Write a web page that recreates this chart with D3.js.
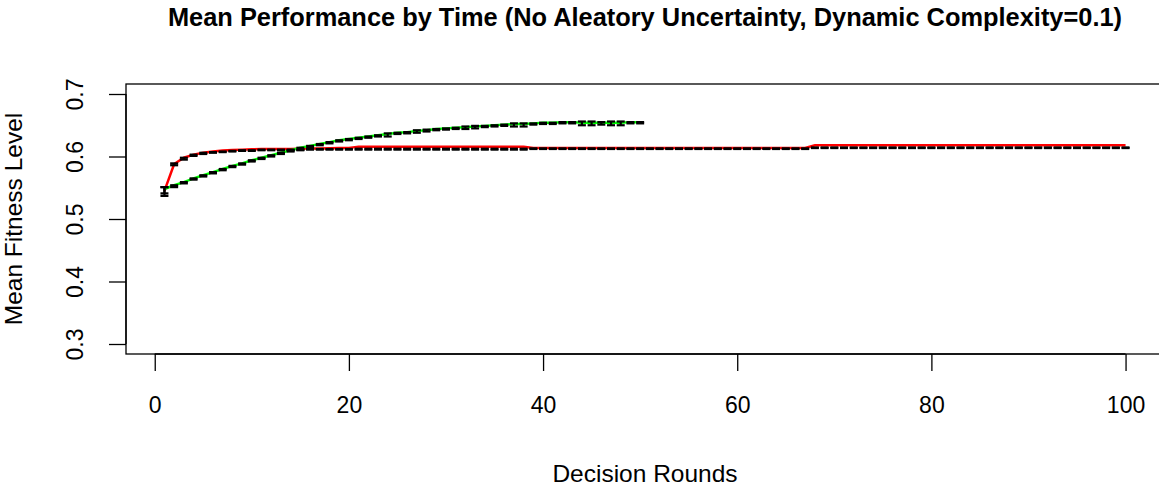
<!DOCTYPE html>
<html>
<head>
<meta charset="utf-8">
<script src="https://cdn.jsdelivr.net/npm/d3@7"></script>
<style>
  body { margin: 0; background: #fff; }
  svg { display: block; font-family: "Liberation Sans", Arial, sans-serif; }
</style>
</head>
<body>
<div class="chart-area"></div>
<script>
// Mean fitness by decision round, two conditions, with error bars

const titleText = "Mean Performance by Time (No Aleatory Uncertainty, Dynamic Complexity=0.1)";
const xTicks = [0, 20, 40, 60, 80, 100];
const yTicks = [0.3, 0.4, 0.5, 0.6, 0.7];

// red series: rounds 1..100
const redMean = [
  .545, .588, .598, .603, .606, .608, .6095, .6105, .611, .6115,
  .612, .612, .612, .6122, .6125, .613, .613, .6132, .6135, .6138,
  .6155, .6155, .6155, .6155, .6155, .6155, .6155, .6155, .6155, .6155,
  .6155, .6155, .6155, .6155, .6155, .6155, .6155, .6155, .6135, .6135,
  .6135, .6135, .6135, .6135, .6135, .6135, .6135, .6135, .6135, .6135,
  .6135, .6135, .6135, .6135, .6135, .6135, .6135, .6135, .6135, .6135,
  .6135, .6135, .6135, .6135, .6135, .6135, .6135, .618, .618, .618,
  .618, .618, .618, .618, .618, .618, .618, .618, .618, .618,
  .618, .618, .618, .618, .618, .618, .618, .618, .618, .618,
  .618, .618, .618, .618, .618, .618, .618, .618, .618, .618
];
const redLo = [
  .537, .586, .595, .601, .604, .606, .607, .608, .609, .609,
  .610, .610, .610, .610, .610, .611, .611, .611, .611, .611,
  .611, .611, .611, .611, .611, .611, .611, .611, .611, .611,
  .611, .611, .611, .611, .611, .611, .611, .611, .612, .612,
  .612, .612, .612, .612, .612, .612, .612, .612, .612, .612,
  .612, .612, .612, .612, .612, .612, .612, .612, .612, .612,
  .612, .612, .612, .612, .612, .612, .612, .6135, .6135, .6135,
  .6135, .6135, .6135, .6135, .6135, .6135, .6135, .6135, .6135, .6135,
  .6135, .6135, .6135, .6135, .6135, .6135, .6135, .6135, .6135, .6135,
  .6135, .6135, .6135, .6135, .6135, .6135, .6135, .6135, .6135, .6135
];
const redHi = [
  .551, .589, .598, .603, .606, .607, .608, .609, .610, .610,
  .611, .611, .611, .611, .611, .612, .612, .612, .612, .612,
  .6125, .6125, .6125, .6125, .6125, .6125, .6125, .6125, .6125, .6125,
  .6125, .6125, .6125, .6125, .6125, .6125, .6125, .6125, .613, .613,
  .613, .613, .613, .613, .613, .613, .613, .613, .613, .613,
  .613, .613, .613, .613, .613, .613, .613, .613, .613, .613,
  .613, .613, .613, .613, .613, .613, .613, .6145, .6145, .6145,
  .6145, .6145, .6145, .6145, .6145, .6145, .6145, .6145, .6145, .6145,
  .6145, .6145, .6145, .6145, .6145, .6145, .6145, .6145, .6145, .6145,
  .6145, .6145, .6145, .6145, .6145, .6145, .6145, .6145, .6145, .6145
];

// green series: rounds 1..50
const greenMean = [
  .548, .554, .559, .565, .570, .575, .580, .585, .589, .594,
  .598, .602, .606, .610, .614, .617, .620, .623, .626, .628,
  .630, .632, .634, .636, .638, .639, .641, .642, .644, .645,
  .646, .647, .648, .649, .650, .651, .652, .652, .653, .654,
  .654, .655, .655, .654, .654, .654, .654, .654, .655, .655
];
const greenLo = [
  .541, .551, .557, .563, .568, .573, .578, .583, .587, .592,
  .596, .600, .604, .608, .611, .614, .618, .621, .624, .626,
  .628, .630, .632, .632, .636, .637, .638, .640, .642, .643,
  .644, .644, .645, .647, .648, .649, .648, .648, .651, .652,
  .652, .653, .653, .650, .650, .651, .650, .650, .653, .653
];
const greenHi = [
  .551, .554, .559, .565, .570, .575, .580, .585, .589, .594,
  .598, .602, .606, .610, .614, .617, .620, .623, .626, .628,
  .630, .632, .634, .637, .638, .639, .642, .643, .644, .645,
  .646, .648, .649, .649, .650, .651, .653, .653, .653, .654,
  .654, .655, .655, .656, .656, .655, .656, .656, .655, .655
];

const W = 1159, H = 491;
const box = { left: 126, right: 1164, top: 84, bottom: 354 };

const svg = d3.select(".chart-area")
    .append("svg")
    .attr("width", W)
    .attr("height", H);

// R-style 4% padding on both axes
const x = d3.scaleLinear().domain([1 - 0.04 * 99, 100 + 0.04 * 99]).range([box.left, box.right]);
const y = d3.scaleLinear().domain([0.3 - 0.016, 0.7 + 0.016]).range([box.bottom, box.top]);

const toPts = arr => arr.map((v, i) => ({ r: i + 1, v: v }));
const line = d3.line().x(d => x(d.r)).y(d => y(d.v));

// lines
svg.append("path").datum(toPts(redMean))
    .attr("fill", "none").attr("stroke", "#ff0000").attr("stroke-width", 2.5)
    .attr("d", line);
svg.append("path").datum(toPts(greenMean))
    .attr("fill", "none").attr("stroke", "#00ff00").attr("stroke-width", 2.5)
    .attr("d", line);

// error bars on top, black
function errorBars(lo, hi) {
    const rows = lo.map((l, i) => ({ r: i + 1, lo: l, hi: hi[i] }));
    const g = svg.append("g").attr("stroke", "#000").attr("stroke-width", 2.2);
    g.selectAll("line.v").data(rows).enter().append("line")
        .attr("x1", d => x(d.r)).attr("x2", d => x(d.r))
        .attr("y1", d => y(d.lo)).attr("y2", d => y(d.hi));
    ["lo", "hi"].forEach(k => {
        g.selectAll("line.c" + k).data(rows).enter().append("line")
            .attr("x1", d => x(d.r) - 4).attr("x2", d => x(d.r) + 4)
            .attr("y1", d => y(d[k])).attr("y2", d => y(d[k]));
    });
}
errorBars(redLo, redHi);
errorBars(greenLo, greenHi);

// plot box
svg.append("rect")
    .attr("x", box.left).attr("y", box.top)
    .attr("width", box.right - box.left).attr("height", box.bottom - box.top)
    .attr("fill", "none").attr("stroke", "#000").attr("stroke-width", 1.3);

// x axis
const xAxis = svg.append("g").attr("transform", `translate(0,${box.bottom})`)
    .call(d3.axisBottom(x).tickValues(xTicks).tickSize(17).tickPadding(26).tickFormat(d3.format("d")));
xAxis.select(".domain").attr("d", `M${x(0)},0H${x(100)}`).attr("stroke-width", 1.3);
xAxis.selectAll("line").attr("stroke-width", 1.3);
xAxis.selectAll("text").attr("font-size", 23).attr("fill", "#000")
    .attr("font-family", "Liberation Sans, Arial, sans-serif");

// y axis, labels rotated like base R
const yAxis = svg.append("g").attr("transform", `translate(${box.left},0)`)
    .call(d3.axisLeft(y).tickValues(yTicks).tickSize(17).tickFormat(d3.format(".1f")));
yAxis.select(".domain").attr("d", `M0,${y(0.3)}V${y(0.7)}`).attr("stroke-width", 1.3);
yAxis.selectAll("line").attr("stroke-width", 1.3);
yAxis.selectAll("text")
    .attr("font-size", 23).attr("fill", "#000")
    .attr("font-family", "Liberation Sans, Arial, sans-serif")
    .attr("x", 0).attr("y", 0).attr("dy", null)
    .attr("text-anchor", "middle")
    .attr("transform", `translate(${83 - box.left},0) rotate(-90)`);

// titles
svg.append("text")
    .attr("x", (box.left + box.right) / 2).attr("y", 26)
    .attr("text-anchor", "middle").attr("font-weight", "bold").attr("font-size", 25.4)
    .text(titleText);

svg.append("text")
    .attr("x", (box.left + box.right) / 2).attr("y", 482)
    .attr("text-anchor", "middle").attr("font-size", 24.5)
    .text("Decision Rounds");

svg.append("text")
    .attr("transform", `translate(22,${(box.top + box.bottom) / 2}) rotate(-90)`)
    .attr("text-anchor", "middle").attr("font-size", 24.5)
    .text("Mean Fitness Level");
</script>
</body>
</html>
